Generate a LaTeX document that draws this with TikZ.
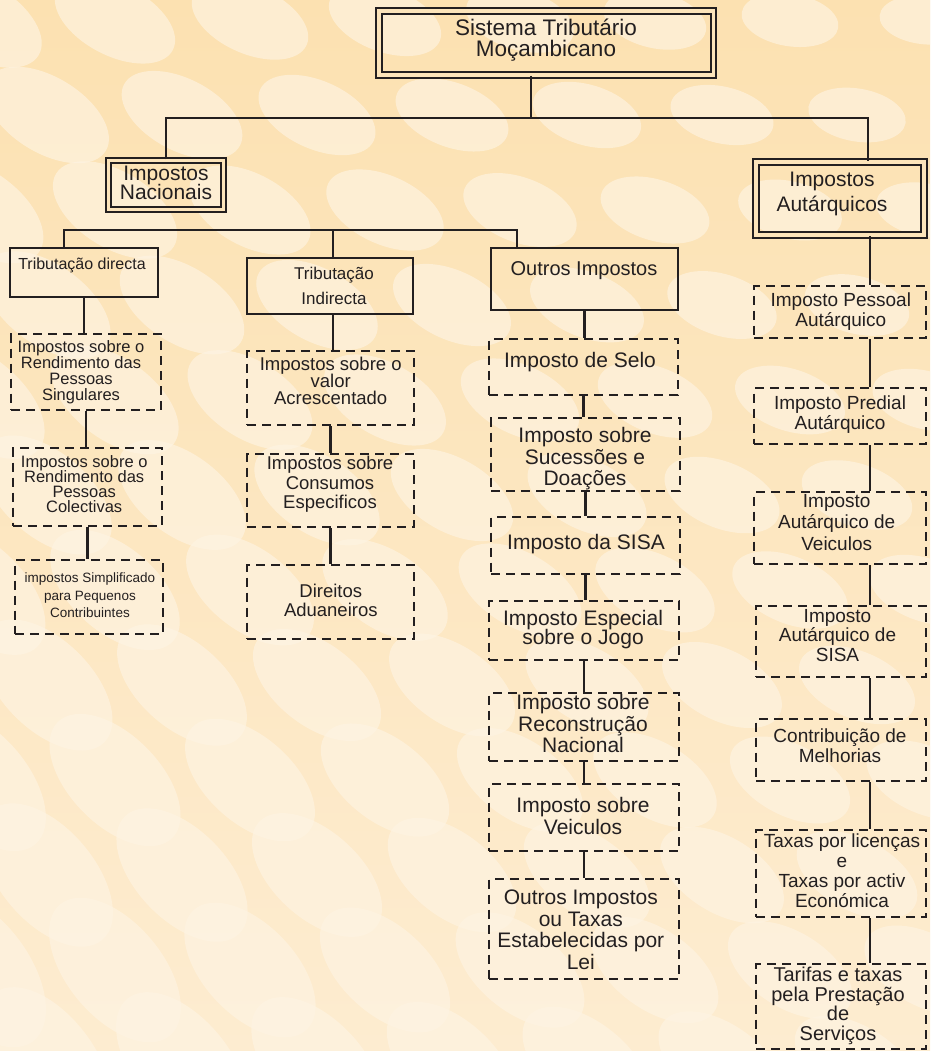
\documentclass[tikz,border=0pt]{standalone}
\usepackage{fontspec}
\setmainfont{Liberation Sans}
\usetikzlibrary{calc}
\definecolor{bg}{HTML}{FCE4BA}
\definecolor{bgtop}{HTML}{FCE1B1}
\definecolor{bgbot}{HTML}{FDECD0}
\definecolor{bgl}{HTML}{FEF4E3}
\definecolor{ink}{HTML}{231F20}
\lineskiplimit=-100pt
\tikzset{
  sz/.style n args={2}{minimum width=#1pt, minimum height=#2pt},
  fs/.style n args={2}{font={\fontsize{#1}{#2}\selectfont\lineskiplimit=-100pt}},
  solidbox/.style={draw=ink, line width=2.2pt, inner sep=0pt},
  dashbox/.style={draw=ink, line width=2.6pt, dash pattern=on 9pt off 6pt, inner sep=0pt},
  dblbox/.style={draw=ink, line width=2pt, double=bg, double distance=3.5pt, inner sep=0pt},
  txt/.style={align=center, inner sep=0pt, text=ink},
  conn/.style={draw=ink, line width=2.4pt},
}
\begin{document}
\begin{tikzpicture}[x=1pt,y=-1pt]
\useasboundingbox (0,0) rectangle (930,1051);
% background
\begin{scope}
\clip (0,0) rectangle (930,1051);
\shade[top color=bgtop, bottom color=bgbot] (0,0) rectangle (930,1051);
\foreach \i in {0,...,7}{
  \foreach \j in {0,...,11}{
    \pgfmathsetmacro\cx{\i*135+mod(\j,2)*67-20}
    \pgfmathsetmacro\cy{\j*95+20}
    \pgfmathsetmacro\t{(\cy/1051+(930-\cx)/930)/2}
    \pgfmathsetmacro\rot{-(5+50*\t)}
    \pgfmathsetmacro\rx{45+45*\t}
    \pgfmathsetmacro\ry{24+26*\t}
    \fill[bgl, opacity=0.65, rotate around={\rot:(\cx,\cy)}] (\cx,\cy) ellipse ({\rx} and {\ry});
  }
}
\end{scope}

% boxes
\node[dblbox, sz={334.5}{64}] (top) at (546,43) {};
\node[dblbox, sz={115}{49}] (nac) at (166,185) {};
\node[dblbox, sz={168}{73}] (aut) at (840,198.5) {};
\node[solidbox, sz={147.8}{49}] (tdir) at (84,272.5) {};
\node[solidbox, sz={165.8}{55.8}] (tind) at (330,286) {};
\node[solidbox, sz={186.8}{61.8}] (outros) at (584.5,279) {};

\node[dashbox, sz={149.8}{75.8}] (l1) at (86,372) {};
\node[dashbox, sz={148.8}{77.8}] (l2) at (87.5,487) {};
\node[dashbox, sz={147.8}{73.8}] (l3) at (89,597) {};

\node[dashbox, sz={166.8}{73.8}] (m1) at (330.5,388) {};
\node[dashbox, sz={166.8}{72.8}] (m2) at (330.5,490.5) {};
\node[dashbox, sz={166.8}{73.8}] (m3) at (330.5,602) {};

\node[dashbox, sz={188.8}{55.8}] (o1) at (583.5,367) {};
\node[dashbox, sz={188.8}{72.8}] (o2) at (585.5,454.5) {};
\node[dashbox, sz={188.8}{56.8}] (o3) at (585.5,545.5) {};
\node[dashbox, sz={189.8}{58.8}] (o4) at (584,630.5) {};
\node[dashbox, sz={189.8}{67.8}] (o5) at (584,727) {};
\node[dashbox, sz={189.8}{66.8}] (o6) at (584,817.5) {};
\node[dashbox, sz={189.8}{99.8}] (o7) at (584,929) {};

\node[dashbox, sz={171.8}{51.8}] (r1) at (840,312) {};
\node[dashbox, sz={171.8}{55.8}] (r2) at (840,416) {};
\node[dashbox, sz={171.8}{71.8}] (r3) at (840,528) {};
\node[dashbox, sz={169.8}{70.8}] (r4) at (841,641.5) {};
\node[dashbox, sz={169.8}{61.8}] (r5) at (841,750) {};
\node[dashbox, sz={169.8}{86.8}] (r6) at (841,873.5) {};
\node[dashbox, sz={169.8}{84.8}] (r7) at (841,1006.5) {};

% texts
\node[txt, fs={22.5}{20.5}] (top-t) at (546,40) {Sistema Tributário\\Moçambicano};
\node[txt, fs={21}{19}] (nac-t) at (166,183.3) {Impostos\\Nacionais};
\node[txt, fs={21}{25}] (aut-t) at (832,194) {Impostos\\Autárquicos};
\node[txt, fs={16}{18}] (tdir-t) at (82,265) {Tributação directa};
\node[txt, fs={17}{25}] (tind-t) at (334,286) {Tributação\\Indirecta};
\node[txt, fs={20}{22}] (outros-t) at (584,270.8) {Outros Impostos};

\node[txt, fs={16.5}{16}] (l1-t) at (81,372) {Impostos sobre o\\Rendimento das\\Pessoas\\Singulares};
\node[txt, fs={16.5}{15}] (l2-t) at (84.2,484) {Impostos sobre o\\Rendimento das\\Pessoas\\Colectivas};
\node[txt, fs={13.5}{17.5}] (l3-t) at (90,595.5) {impostos Simplificado\\para Pequenos\\Contribuintes};

\node[txt, fs={18.5}{17}] (m1-t) at (330.7,381) {Impostos sobre o\\valor\\Acrescentado};
\node[txt, fs={18.5}{19.5}] (m2-t) at (330,484.7) {Impostos sobre\\Consumos\\Especificos};
\node[txt, fs={18.5}{19}] (m3-t) at (330.8,600.7) {Direitos\\Aduaneiros};

\node[txt, fs={21}{21.5}] (o1-t) at (580,361.6) {Imposto de Selo};
\node[txt, fs={21}{21.5}] (o2-t) at (585,459) {Imposto sobre\\Sucessões e\\Doações};
\node[txt, fs={21}{21.5}] (o3-t) at (586,544.5) {Imposto da SISA};
\node[txt, fs={21}{19}] (o4-t) at (583,630) {Imposto Especial\\sobre o Jogo};
\node[txt, fs={21}{21.5}] (o5-t) at (583,723.9) {Imposto sobre\\Reconstrução\\Nacional};
\node[txt, fs={21}{22}] (o6-t) at (583,816.4) {Imposto sobre\\Veiculos};
\node[txt, fs={21}{21.7}] (o7-t) at (580.8,929.9) {Outros Impostos\\ou Taxas\\Estabelecidas por\\Lei};

\node[txt, fs={19}{20}] (r1-t) at (840.8,312) {Imposto Pessoal\\Autárquico};
\node[txt, fs={19}{19.5}] (r2-t) at (840,414.5) {Imposto Predial\\Autárquico};
\node[txt, fs={19}{21.5}] (r3-t) at (836.7,522.5) {Imposto\\Autárquico de\\Veiculos};
\node[txt, fs={19}{19.5}] (r4-t) at (837.5,635.5) {Imposto\\Autárquico de\\SISA};
\node[txt, fs={19}{20}] (r5-t) at (840,746) {Contribuição de\\Melhorias};
\node[txt, fs={19}{20}] (r6-t) at (842,871) {Taxas por licenças\\e\\Taxas por activ\\Económica};
\node[txt, fs={20}{19.5}] (r7-t) at (838,1005.8) {Tarifas e taxas\\pela Prestação\\de\\Serviços};

% connectors
\coordinate (j0) at (531,118);
\coordinate (jr) at (868,118);
\coordinate (k1) at (64,230);
\coordinate (k2) at (333,230);
\coordinate (k3) at (517,230);
\coordinate (rc) at (870,0);

\draw[conn] (top.south -| j0) -- (j0);
\draw[conn] (nac.north) |- (jr) -- (aut.north -| jr);
\draw[conn] (tdir.north -| k1) -- (k1) -- (k3) -- (outros.north -| k3);
\draw[conn] (k2) -- (tind.north -| k2);

\draw[conn] (tdir.south) -- (tdir.south |- l1.north);
\draw[conn] (l1.south) -- (l1.south |- l2.north);
\draw[conn] (l2.south) -- (l2.south |- l3.north);

\draw[conn] (tind.south -| k2) -- (m1.north -| k2);
\draw[conn] (m1.south) -- (m1.south |- m2.north);
\draw[conn] (m2.south) -- (m2.south |- m3.north);

\draw[conn] (outros.south) -- (outros.south |- o1.north);
\draw[conn] (o1.south) -- (o1.south |- o2.north);
\draw[conn] (o2.south) -- (o2.south |- o3.north);
\draw[conn] (o3.south) -- (o3.south |- o4.north);
\draw[conn] (o4.south) -- (o4.south |- o5.north);
\draw[conn] (o5.south) -- (o5.south |- o6.north);
\draw[conn] (o6.south) -- (o6.south |- o7.north);

\draw[conn] (aut.south -| rc) -- (r1.north -| rc);
\draw[conn] (r1.south -| rc) -- (r2.north -| rc);
\draw[conn] (r2.south -| rc) -- (r3.north -| rc);
\draw[conn] (r3.south -| rc) -- (r4.north -| rc);
\draw[conn] (r4.south -| rc) -- (r5.north -| rc);
\draw[conn] (r5.south -| rc) -- (r6.north -| rc);
\draw[conn] (r6.south -| rc) -- (r7.north -| rc);
\end{tikzpicture}
\end{document}
